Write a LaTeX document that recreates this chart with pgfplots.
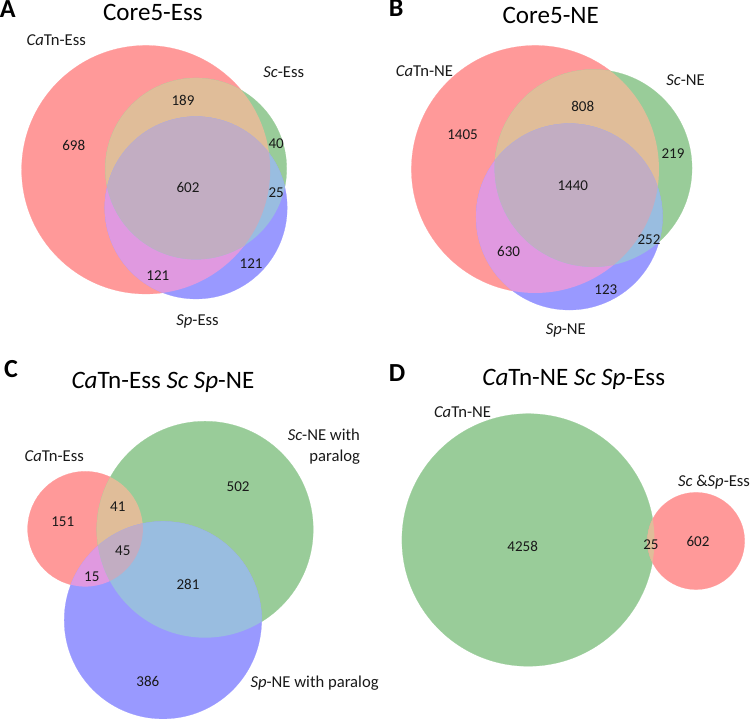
\documentclass[border=0pt]{standalone}
\usepackage{pgfplots}
\pgfplotsset{compat=1.18}
\usepackage{fontspec}
\setmainfont{Carlito}
\definecolor{vR}{RGB}{255,153,153}
\definecolor{vG}{RGB}{153,204,153}
\definecolor{vB}{RGB}{153,153,255}
\definecolor{vRG}{RGB}{224,189,153}
\definecolor{vRB}{RGB}{224,153,224}
\definecolor{vGB}{RGB}{153,189,224}
\definecolor{vRGB}{RGB}{194,173,194}
\definecolor{txt}{RGB}{25,25,25}
\pgfplotsset{venn/.style={only marks, mark=*, color=#1, mark options={fill=#1, draw=#1, line width=0.1pt}}}
\newcommand\clipc[3]{\clip (axis cs:#1,#2) circle[radius=#3*0.5pt];}
\tikzset{
  num/.style={anchor=base, text=txt, font=\fontsize{7.5}{9}\selectfont, inner sep=0pt},
  lab/.style={anchor=base, text=txt, font=\fontsize{8.3}{10}\selectfont, inner sep=0pt},
  ttl/.style={anchor=base, text=black, font=\fontsize{12.5}{15}\selectfont, inner sep=0pt},
  let/.style={anchor=base west, text=black, font=\fontsize{13}{15}\selectfont\bfseries, inner sep=0pt}
}
\begin{document}
\begin{tikzpicture}
\begin{axis}[x=0.5pt, y=0.5pt, y dir=reverse, xmin=0, xmax=750, ymin=0, ymax=721,
  hide axis, clip=false, clip mode=individual]
% ---------- Panel A ----------
\addplot[venn=vR, mark size=0.5*124] coordinates {(146,171)};
\addplot[venn=vG, mark size=0.5*90.5] coordinates {(196,170)};
\addplot[venn=vB, mark size=0.5*91] coordinates {(196,209)};
\begin{scope}\clipc{146}{171}{124}
\addplot[venn=vRG, mark size=0.5*90.5] coordinates {(196,170)};
\addplot[venn=vRB, mark size=0.5*91] coordinates {(196,209)};
\end{scope}
\begin{scope}\clipc{196}{170}{90.5}
\addplot[venn=vGB, mark size=0.5*91] coordinates {(196,209)};
\begin{scope}\clipc{146}{171}{124}
\addplot[venn=vRGB, mark size=0.5*91] coordinates {(196,209)};
\end{scope}
\end{scope}
% ---------- Panel B ----------
\addplot[venn=vR, mark size=0.5*123.5] coordinates {(534.5,170.5)};
\addplot[venn=vG, mark size=0.5*98.5] coordinates {(592.5,169.5)};
\addplot[venn=vB, mark size=0.5*93] coordinates {(568.5,218)};
\begin{scope}\clipc{534.5}{170.5}{123.5}
\addplot[venn=vRG, mark size=0.5*98.5] coordinates {(592.5,169.5)};
\addplot[venn=vRB, mark size=0.5*93] coordinates {(568.5,218)};
\end{scope}
\begin{scope}\clipc{592.5}{169.5}{98.5}
\addplot[venn=vGB, mark size=0.5*93] coordinates {(568.5,218)};
\begin{scope}\clipc{534.5}{170.5}{123.5}
\addplot[venn=vRGB, mark size=0.5*93] coordinates {(568.5,218)};
\end{scope}
\end{scope}
% ---------- Panel C ----------
\addplot[venn=vR, mark size=0.5*57.5] coordinates {(85.5,529.5)};
\addplot[venn=vG, mark size=0.5*108] coordinates {(205,530)};
\addplot[venn=vB, mark size=0.5*98.5] coordinates {(163,620.5)};
\begin{scope}\clipc{85.5}{529.5}{57.5}
\addplot[venn=vRG, mark size=0.5*108] coordinates {(205,530)};
\addplot[venn=vRB, mark size=0.5*98.5] coordinates {(163,620.5)};
\end{scope}
\begin{scope}\clipc{205}{530}{108}
\addplot[venn=vGB, mark size=0.5*98.5] coordinates {(163,620.5)};
\begin{scope}\clipc{85.5}{529.5}{57.5}
\addplot[venn=vRGB, mark size=0.5*98.5] coordinates {(163,620.5)};
\end{scope}
\end{scope}
% ---------- Panel D ----------
\addplot[venn=vG, mark size=0.5*126] coordinates {(527.5,540.5)};
\addplot[venn=vR, mark size=0.5*48.5] coordinates {(695,541.5)};
\begin{scope}\clipc{527.5}{540.5}{126}
\addplot[venn=vRG, mark size=0.5*48.5] coordinates {(695,541.5)};
\end{scope}
% ---------- Text ----------
\node[let] at (axis cs:0,19.5) {A};
\node[let] at (axis cs:388,18.5) {B};
\node[let] at (axis cs:4,378) {C};
\node[let] at (axis cs:388,382) {D};
\node[ttl] at (axis cs:153,22) {Core5-Ess};
\node[ttl] at (axis cs:550,25) {Core5-NE};
\node[ttl] at (axis cs:163,389) {\textit{Ca}Tn-Ess \textit{Sc Sp}-NE};
\node[ttl] at (axis cs:573,386) {\textit{Ca}Tn-NE \textit{Sc Sp}-Ess};
% A
\node[lab] at (axis cs:56.5,47.5) {\textit{Ca}Tn-Ess};
\node[lab] at (axis cs:283.5,78.5) {\textit{Sc}-Ess};
\node[lab] at (axis cs:197.5,326.5) {\textit{Sp}-Ess};
\node[num] at (axis cs:74,152) {698};
\node[num] at (axis cs:183,107) {189};
\node[num] at (axis cs:276,150) {40};
\node[num] at (axis cs:188,194) {602};
\node[num] at (axis cs:276,199) {25};
\node[num] at (axis cs:251,270) {121};
\node[num] at (axis cs:158,282) {121};
% B
\node[lab] at (axis cs:424,77.5) {\textit{Ca}Tn-NE};
\node[lab] at (axis cs:684.5,86.5) {\textit{Sc}-NE};
\node[lab] at (axis cs:565,335.5) {\textit{Sp}-NE};
\node[num] at (axis cs:582,113) {808};
\node[num] at (axis cs:462,141) {1405};
\node[num] at (axis cs:672,160) {219};
\node[num] at (axis cs:572,192) {1440};
\node[num] at (axis cs:648,246) {252};
\node[num] at (axis cs:508,258) {630};
\node[num] at (axis cs:605,296) {123};
% C
\node[lab] at (axis cs:54.5,462.5) {\textit{Ca}Tn-Ess};
\node[lab, anchor=base east] at (axis cs:360,441.5) {\textit{Sc}-NE with};
\node[lab, anchor=base east] at (axis cs:360,462) {paralog};
\node[lab, anchor=base west] at (axis cs:250,687.5) {\textit{Sp}-NE with paralog};
\node[num] at (axis cs:238,492) {502};
\node[num] at (axis cs:63,527) {151};
\node[num] at (axis cs:118,512) {41};
\node[num] at (axis cs:123,556) {45};
\node[num] at (axis cs:92,582) {15};
\node[num] at (axis cs:188,590) {281};
\node[num] at (axis cs:148,687) {386};
% D
\node[lab] at (axis cs:462,418.5) {\textit{Ca}Tn-NE};
\node[lab] at (axis cs:713,487.5) {\textit{Sc} \&\textit{Sp}-Ess};
\node[num] at (axis cs:522,552) {4258};
\node[num] at (axis cs:650,550) {25};
\node[num] at (axis cs:697,547) {602};
\end{axis}
\end{tikzpicture}
\end{document}
